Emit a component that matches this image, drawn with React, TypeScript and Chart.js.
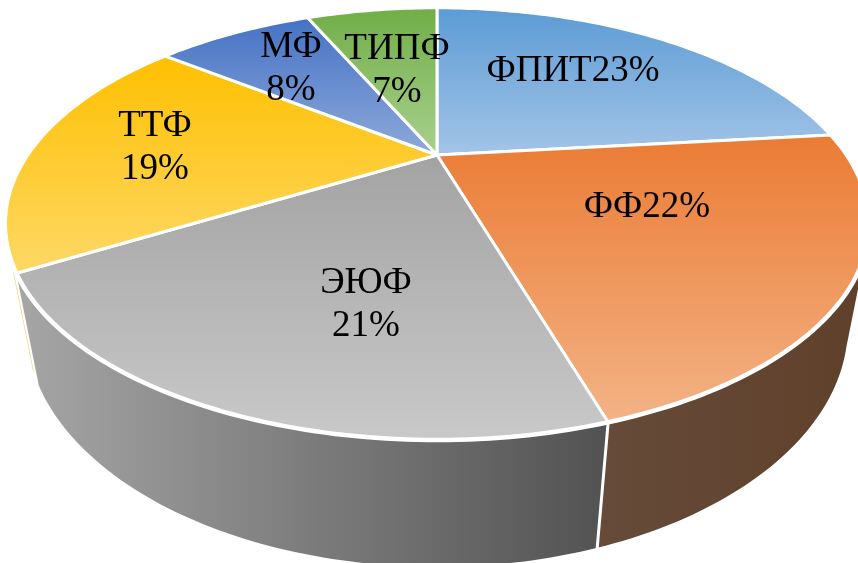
import React, { useEffect, useRef } from "react";
import { Chart, registerables } from "chart.js";

Chart.register(...registerables);

const categories = ["ФПИТ", "ФФ", "ЭЮФ", "ТТФ", "МФ", "ТИПФ"];
const shares = [23.3, 22.0, 21.2, 18.9, 7.9, 6.7];

const faceTop = ["#5b9bd5", "#eb7b34", "#a3a3a3", "#ffc000", "#4472c4", "#70ad47"];
const faceBottom = ["#a3c4e7", "#f3b386", "#c9c9c9", "#fdd866", "#8ea9db", "#a9d18e"];
const wallLeft = ["#5b9bd5", "#664b3a", "#a6a6a6", "#f5cb5c", "#4472c4", "#70ad47"];
const wallRight = ["#5b9bd5", "#5f402a", "#525252", "#f5cb5c", "#4472c4", "#70ad47"];
const wallFromDeg = [0, 112, 0, 242, 0, 0];
const wallToDeg = [0, 360, 360, 243, 0, 0];

const labelLines = [
  (c: string, p: string) => [c + p],
  (c: string, p: string) => [c + p],
  (c: string, p: string) => [c, p],
  (c: string, p: string) => [c, p],
  (c: string, p: string) => [c, p],
  (c: string, p: string) => [c, p],
];
const labelCenters = [
  [573, 71],
  [647, 207],
  [366, 283],
  [155, 126],
  [291, 47],
  [397, 49],
];

const HUB = { x: 437, y: 155 };
const TOP = { hy: 155, a: 194.8, r: 410, c: 0.3165 };
const BOTTOM = { hy: 254, a: 219, r: 392, c: 0.3 };
const LINE_GAP = 43;
const RAD = Math.PI / 180;

function project(theta: number, ring: typeof TOP) {
  const u = Math.sin(theta);
  const v = -Math.cos(theta);
  const w = 1 - ring.c * v;
  return { x: HUB.x + (ring.r * u) / w, y: ring.hy + (ring.a * v) / w };
}

function rimPoints(start: number, end: number, ring: typeof TOP) {
  const pts = [];
  const n = Math.max(2, Math.ceil((end - start) / RAD));
  for (let i = 0; i <= n; i++) pts.push(project(start + ((end - start) * i) / n, ring));
  return pts;
}

const pie3d = {
  id: "pie3d",
  beforeDatasetsDraw(chart: any) {
    const ctx: CanvasRenderingContext2D = chart.ctx;
    const arcs = chart.getDatasetMeta(0).data;
    const range = arcs.map((a: any) => [a.startAngle + Math.PI / 2, a.endAngle + Math.PI / 2]);
    ctx.save();
    ctx.lineJoin = "round";

    arcs.forEach((_: any, i: number) => {
      const s = Math.max(range[i][0], wallFromDeg[i] * RAD);
      const e = Math.min(range[i][1], wallToDeg[i] * RAD);
      if (e <= s) return;
      const poly = [...rimPoints(s, e, TOP), ...rimPoints(s, e, BOTTOM).reverse()];
      const xs = poly.map((p) => p.x);
      const g = ctx.createLinearGradient(Math.min(...xs), 0, Math.max(...xs), 0);
      g.addColorStop(0, wallLeft[i]);
      g.addColorStop(1, wallRight[i]);
      ctx.beginPath();
      poly.forEach((p, k) => (k ? ctx.lineTo(p.x, p.y) : ctx.moveTo(p.x, p.y)));
      ctx.closePath();
      ctx.fillStyle = g;
      ctx.fill();
    });

    // seam between the two front walls
    const seamTop = project(range[2][0], TOP);
    const seamBottom = project(range[2][0], BOTTOM);
    ctx.strokeStyle = "#ffffff";
    ctx.lineWidth = 3;
    ctx.beginPath();
    ctx.moveTo(seamTop.x, seamTop.y);
    ctx.lineTo(seamBottom.x, seamBottom.y + 2);
    ctx.stroke();

    arcs.forEach((_: any, i: number) => {
      const pts = rimPoints(range[i][0], range[i][1], TOP);
      const ys = [HUB.y, ...pts.map((p) => p.y)];
      const g = ctx.createLinearGradient(0, Math.min(...ys), 0, Math.max(...ys));
      g.addColorStop(0, faceTop[i]);
      g.addColorStop(1, faceBottom[i]);
      ctx.beginPath();
      ctx.moveTo(HUB.x, HUB.y);
      pts.forEach((p) => ctx.lineTo(p.x, p.y));
      ctx.closePath();
      ctx.fillStyle = g;
      ctx.fill();
      ctx.strokeStyle = "#ffffff";
      ctx.lineWidth = 3;
      ctx.stroke();
      // heavier white edge along the rim
      ctx.beginPath();
      pts.forEach((p, k) => (k ? ctx.lineTo(p.x, p.y) : ctx.moveTo(p.x, p.y)));
      ctx.lineWidth = 4.5;
      ctx.stroke();
    });

    ctx.fillStyle = "#000000";
    ctx.font = '37px "Liberation Serif"';
    ctx.textAlign = "center";
    ctx.textBaseline = "middle";
    categories.forEach((c, i) => {
      const lines = labelLines[i](c, Math.round(shares[i]) + "%");
      lines.forEach((t, k) => ctx.fillText(t, labelCenters[i][0], labelCenters[i][1] + k * LINE_GAP));
    });
    ctx.restore();
    return false;
  },
};

export default function App() {
  const ref = useRef<HTMLCanvasElement>(null);
  useEffect(() => {
    document.body.style.margin = "0";
    document.body.style.background = "#ffffff";
    const chart = new Chart(ref.current!, {
      type: "pie",
      data: {
        labels: categories,
        datasets: [{ data: shares, backgroundColor: faceTop, borderColor: "#ffffff", borderWidth: 3 }],
      },
      options: {
        animation: false,
        responsive: false,
        plugins: { legend: { display: false }, tooltip: { enabled: false } },
      },
      plugins: [pie3d as any],
    });
    return () => chart.destroy();
  }, []);
  return <canvas ref={ref} width={858} height={563} style={{ display: "block" }} />;
}
